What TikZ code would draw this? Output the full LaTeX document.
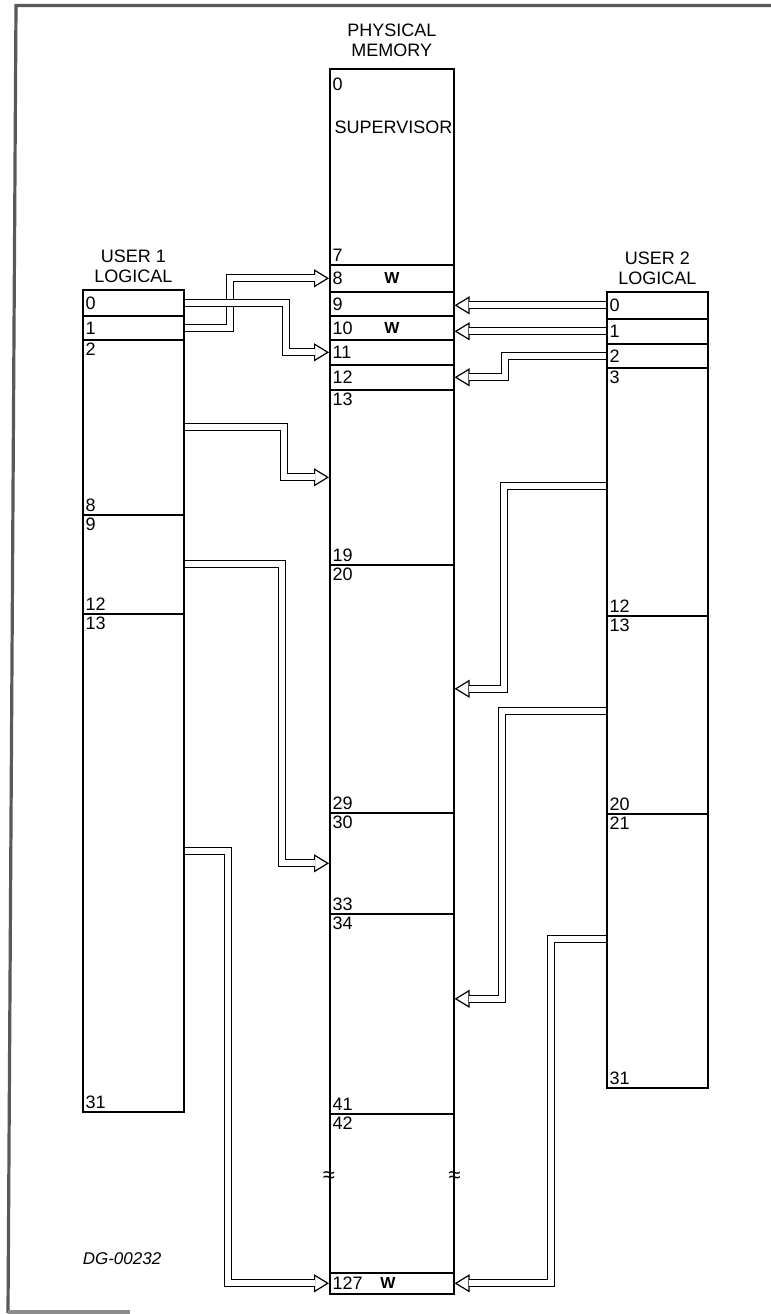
\documentclass[tikz,border=0pt]{standalone}
\usepackage{fontspec}
\setmainfont{Liberation Sans}
\usepackage{tikz}
\usetikzlibrary{arrows.meta,positioning}

\begin{document}
\begin{tikzpicture}[
    x=0.5pt, y=-0.5pt,
    rowbox/.style={draw, line width=0.8pt, anchor=north west, inner sep=0pt, minimum width=62pt},
    userbox/.style={rowbox, minimum width=50.5pt},
    numtl/.style={anchor=north west, inner sep=0pt, font=\fontsize{9}{10}\selectfont, xshift=1.6pt, yshift=-1.8pt},
    numbl/.style={anchor=south west, inner sep=0pt, font=\fontsize{9}{10}\selectfont, xshift=1.6pt, yshift=2pt},
    numw/.style={anchor=west, inner sep=0pt, font=\fontsize{9}{10}\selectfont, xshift=1.6pt},
    wmark/.style={inner sep=0pt, font=\fontsize{8}{8}\selectfont\bfseries},
    title/.style={inner sep=0pt, align=center, font=\fontsize{9}{10}\selectfont},
    brk/.style={inner sep=0pt, font=\fontsize{11}{11}\selectfont},
    docid/.style={inner sep=0pt, font=\fontsize{8.5}{9}\selectfont\itshape},
    frame/.style={draw=black!65, line width=1.6pt},
    pipe/.style={line width=4.1pt, line join=miter, -{Triangle[open, line width=0.6pt, length=7.5pt, width=9pt]},
      postaction={draw=white, line width=2.9pt, arrows=-, shorten >=7.2pt}}
  ]
    \useasboundingbox (0,0) rectangle (771,1314);
    \draw[frame] (8,1313) -- (16,5.5) -- (771,5.5);
    \draw[frame, draw=black!45] (8,1312) -- (130,1312);

    % physical memory
    \node[rowbox, minimum height=98pt] (p0) at (329,68) {};
    \node[rowbox, minimum height=13.5pt] (p8) at (329,264) {};
    \node[rowbox, minimum height=12pt] (p9) at (329,291) {};
    \node[rowbox, minimum height=12pt] (p10) at (329,315) {};
    \node[rowbox, minimum height=12.5pt] (p11) at (329,339) {};
    \node[rowbox, minimum height=12.5pt] (p12) at (329,364) {};
    \node[rowbox, minimum height=87.5pt] (p13) at (329,389) {};
    \node[rowbox, minimum height=124pt] (p20) at (329,564) {};
    \node[rowbox, minimum height=50.5pt] (p30) at (329,812) {};
    \node[rowbox, minimum height=100pt] (p34) at (329,913) {};
    \node[rowbox, minimum height=79.5pt] (p42) at (329,1113) {};
    \node[rowbox, minimum height=10.5pt] (p127) at (329,1272) {};
    \node[title, above=5.5pt of p0] (ptitle) {PHYSICAL\\MEMORY};

    \node[numtl, yshift=-3pt] (n0) at (p0.north west) {0};
    \node[numw] (sup) at (331,127) {SUPERVISOR};
    \node[numbl] (n7) at (p0.south west) {7};
    \node[numw] (n8) at (p8.west) {8};
    \node[wmark] (w8) at (p8) {W};
    \node[numw] (n9) at (p9.west) {9};
    \node[numw] (n10) at (p10.west) {10};
    \node[wmark] (w10) at (p10) {W};
    \node[numw] (n11) at (p11.west) {11};
    \node[numw] (n12) at (p12.west) {12};
    \node[numtl] (n13) at (p13.north west) {13};
    \node[numbl] (n19) at (p13.south west) {19};
    \node[numtl] (n20) at (p20.north west) {20};
    \node[numbl] (n29) at (p20.south west) {29};
    \node[numtl] (n30) at (p30.north west) {30};
    \node[numbl] (n33) at (p30.south west) {33};
    \node[numtl] (n34) at (p34.north west) {34};
    \node[numbl] (n41) at (p34.south west) {41};
    \node[numtl] (n42) at (p42.north west) {42};
    \node[brk] (brkl) at ([yshift=8.25pt]p42.west) {≈};
    \node[brk] (brkr) at ([yshift=8.25pt]p42.east) {≈};
    \node[numw] (n127) at (p127.west) {127};
    \node[wmark, xshift=-2pt] (w127) at (p127) {W};

    % user 1 logical
    \node[userbox, minimum height=13pt] (u0) at (82,289) {};
    \node[userbox, minimum height=12pt] (u1) at (82,315) {};
    \node[userbox, minimum height=87.5pt] (u2) at (82,339) {};
    \node[userbox, minimum height=49.5pt] (u9) at (82,514) {};
    \node[userbox, minimum height=249pt] (u13) at (82,613) {};
    \node[title, above=3pt of u0] (utitle) {USER 1\\LOGICAL};

    \node[numw] (a0) at (u0.west) {0};
    \node[numw] (a1) at (u1.west) {1};
    \node[numtl] (a2) at (u2.north west) {2};
    \node[numbl] (a8) at (u2.south west) {8};
    \node[numtl] (a9) at (u9.north west) {9};
    \node[numbl] (a12) at (u9.south west) {12};
    \node[numtl] (a13) at (u13.north west) {13};
    \node[numbl] (a31) at (u13.south west) {31};

    % user 2 logical
    \node[userbox, minimum height=13.5pt] (v0) at (606,291) {};
    \node[userbox, minimum height=12.5pt] (v1) at (606,318) {};
    \node[userbox, minimum height=12pt] (v2) at (606,343) {};
    \node[userbox, minimum height=124pt] (v3) at (606,367) {};
    \node[userbox, minimum height=99pt] (v13) at (606,615) {};
    \node[userbox, minimum height=137pt] (v21) at (606,813) {};
    \node[title, above=3pt of v0] (vtitle) {USER 2\\LOGICAL};

    \node[numw] (b0) at (v0.west) {0};
    \node[numw] (b1) at (v1.west) {1};
    \node[numw] (b2) at (v2.west) {2};
    \node[numtl] (b3) at (v3.north west) {3};
    \node[numbl] (b12) at (v3.south west) {12};
    \node[numtl] (b13) at (v13.north west) {13};
    \node[numbl] (b20) at (v13.south west) {20};
    \node[numtl] (b21) at (v21.north west) {21};
    \node[numbl] (b31) at (v21.south west) {31};

    \node[docid] (dgnum) at (122,1259) {DG-00232};

    % mapping pipes
    \draw[pipe] (u1.east) -- ++(45,0) |- (p8.west);
    \draw[pipe] (u0.east) -- ++(101,0) |- (p11.west);
    \draw[pipe] (u2.east) -- ++(99,0) |- (p13.west);
    \draw[pipe] (u9.east) -- ++(97,0) |- (p30.west);
    \draw[pipe] ([yshift=6pt]u13.east) -- ++(43,0) |- (p127.west);
    \draw[pipe] (v0.west) -- (p9.east |- v0.west);
    \draw[pipe] (v1.west) -- (p10.east |- v1.west);
    \draw[pipe] (v2.west) -- ++(-101,0) |- (p12.east);
    \draw[pipe] ([yshift=3pt]v3.west) -- ++(-102,0) |- (p20.east);
    \draw[pipe] ([yshift=2pt]v13.west) -- ++(-104,0) |- ([yshift=7.5pt]p34.east);
    \draw[pipe] ([yshift=6pt]v21.west) -- ++(-55,0) |- (p127.east);
  \end{tikzpicture}
\end{document}
